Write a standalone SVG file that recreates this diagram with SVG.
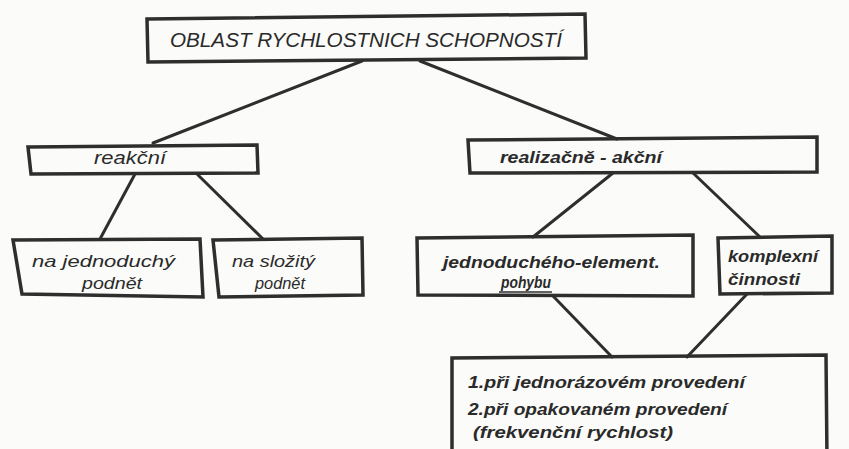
<svg xmlns="http://www.w3.org/2000/svg" width="849" height="449" viewBox="0 0 849 449">
<style>
.box{fill:none;stroke:#2e2e2e;stroke-width:3.5;stroke-linejoin:miter}
.con line{stroke:#2e2e2e;stroke-width:3;stroke-linecap:round}
text{font-family:"Liberation Sans",Arial,sans-serif;fill:#2a2a2a;font-style:italic}
.thin{font-weight:normal}
.bold{font-weight:bold}
.title{font-size:20px;font-weight:normal}
</style>
<rect x="0" y="0" width="849" height="449" fill="#fbfbf9"/>
<g class="con" id="connectors">
<line x1="362" y1="61" x2="153" y2="143"/>
<line x1="420" y1="61" x2="617" y2="139"/>
<line x1="135" y1="174" x2="100" y2="239"/>
<line x1="197" y1="174" x2="263" y2="239"/>
<line x1="613" y1="173" x2="533" y2="237"/>
<line x1="693" y1="173" x2="760" y2="237"/>
<line x1="553" y1="296" x2="612" y2="357"/>
<line x1="747" y1="294" x2="687" y2="357"/>
</g>
<g id="n-title">
<polygon class="box" points="147,19 585,14 586,58 148,62"/>
<text class="title" x="170" y="47" textLength="392" lengthAdjust="spacingAndGlyphs">OBLAST RYCHLOSTNICH SCHOPNOSTÍ</text>
</g>
<g id="n-reakcni">
<polygon class="box" points="28,147 257,145 258,173 31,174"/>
<text class="thin" x="94" y="164" font-size="18" textLength="72" lengthAdjust="spacingAndGlyphs">reakční</text>
</g>
<g id="n-jednoduchy">
<polygon class="box" points="13,240 200,239 203,297 22,294"/>
<text class="thin" x="32" y="267" font-size="17" textLength="143" lengthAdjust="spacingAndGlyphs">na  jednoduchý</text>
<text class="thin" x="82" y="289" font-size="17" textLength="60" lengthAdjust="spacingAndGlyphs">podnět</text>
</g>
<g id="n-slozity">
<polygon class="box" points="213,240 362,238 363,295 219,297"/>
<text class="thin" x="232" y="267" font-size="17" textLength="83" lengthAdjust="spacingAndGlyphs">na složitý</text>
<text class="thin" x="255" y="289" font-size="17" textLength="50" lengthAdjust="spacingAndGlyphs">podnět</text>
</g>
<g id="n-realizacne">
<polygon class="box" points="468,140 817,137 817,172 470,173"/>
<text class="bold" x="500" y="163" font-size="17" textLength="162" lengthAdjust="spacingAndGlyphs">realizačně - akční</text>
</g>
<g id="n-elementarni">
<polygon class="box" points="417,238 693,235 693,296 418,295"/>
<text class="bold" x="443" y="268" font-size="16" textLength="217" lengthAdjust="spacingAndGlyphs">jednoduchého-element.</text>
<text class="bold" x="501" y="288" font-size="17" textLength="50" lengthAdjust="spacingAndGlyphs">pohybu</text>
<line x1="499" y1="292" x2="552" y2="292" stroke="#2e2e2e" stroke-width="1.5"/>
</g>
<g id="n-komplexni">
<polygon class="box" points="718,238 832,236 832,293 720,294"/>
<text class="bold" x="728" y="262" font-size="17" textLength="90" lengthAdjust="spacingAndGlyphs">komplexní</text>
<text class="bold" x="728" y="285" font-size="17" textLength="72" lengthAdjust="spacingAndGlyphs">činnosti</text>
</g>
<g id="n-provedeni">
<polyline class="box" points="452,460 452,358 826,355 827,460"/>
<text class="bold" x="468" y="388" font-size="17" textLength="277" lengthAdjust="spacingAndGlyphs">1.při jednorázovém provedení</text>
<text class="bold" x="468" y="415" font-size="17" textLength="259" lengthAdjust="spacingAndGlyphs">2.při opakovaném provedení</text>
<text class="bold" x="473" y="438" font-size="17" textLength="200" lengthAdjust="spacingAndGlyphs">(frekvenční rychlost)</text>
</g>
</svg>
